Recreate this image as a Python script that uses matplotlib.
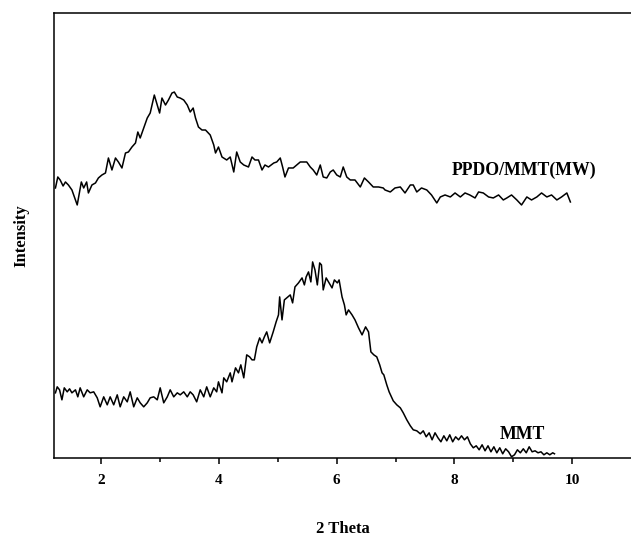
import numpy as np
import matplotlib
matplotlib.use("Agg")
import matplotlib.pyplot as plt

# XRD patterns (2 theta in degrees, intensity in arbitrary units)
ppdo_theta = [1.22, 1.26, 1.30, 1.35, 1.39, 1.44, 1.50, 1.59, 1.66, 1.70, 1.75, 1.78, 1.84, 1.90,
              1.95, 2.01, 2.07, 2.12, 2.18, 2.24, 2.29, 2.35, 2.41, 2.46, 2.52, 2.58, 2.62, 2.66,
              2.72, 2.78, 2.83, 2.90, 2.95, 2.99, 3.03, 3.09, 3.14, 3.20, 3.24, 3.29, 3.34, 3.40,
              3.46, 3.51, 3.56, 3.60, 3.65, 3.71, 3.77, 3.85, 3.91, 3.94, 3.99, 4.05, 4.13, 4.19,
              4.25, 4.30, 4.36, 4.42, 4.50, 4.56, 4.61, 4.67, 4.73, 4.78, 4.84, 4.93, 4.98, 5.04,
              5.08, 5.12, 5.18, 5.26, 5.32, 5.38, 5.43, 5.49, 5.55, 5.60, 5.66, 5.72, 5.77, 5.83,
              5.89, 5.94, 6.00, 6.06, 6.11, 6.17, 6.23, 6.31, 6.40, 6.47, 6.54, 6.62, 6.71, 6.79,
              6.82, 6.91, 6.99, 7.08, 7.16, 7.25, 7.30, 7.36, 7.44, 7.53, 7.61, 7.70, 7.76, 7.84,
              7.93, 8.01, 8.10, 8.18, 8.26, 8.35, 8.41, 8.49, 8.58, 8.66, 8.75, 8.83, 8.89, 8.97,
              9.06, 9.14, 9.23, 9.31, 9.40, 9.48, 9.57, 9.65, 9.74, 9.82, 9.91, 9.97]
ppdo_int = [270, 281, 278, 272, 276, 273, 268, 253, 276, 270, 276, 265, 273, 275,
            280, 283, 285, 300, 288, 300, 296, 290, 305, 306, 311, 315, 326, 320,
            330, 340, 345, 363, 353, 345, 360, 353, 358, 365, 366, 361, 360, 358,
            353, 346, 350, 340, 331, 328, 328, 323, 313, 305, 311, 301, 298, 301,
            286, 306, 296, 293, 291, 301, 298, 298, 288, 293, 291, 295, 296, 300,
            291, 281, 290, 290, 293, 296, 296, 296, 291, 288, 283, 293, 281, 280,
            286, 288, 283, 281, 291, 281, 278, 278, 271, 280, 276, 271, 271, 270,
            268, 266, 270, 271, 265, 273, 273, 266, 270, 268, 263, 255, 261, 263,
            261, 265, 261, 265, 263, 260, 266, 265, 261, 260, 263, 258, 260, 263,
            258, 253, 261, 258, 261, 265, 261, 263, 258, 261, 265, 256]

mmt_theta = [1.22, 1.25, 1.29, 1.33, 1.37, 1.42, 1.46, 1.50, 1.56, 1.60, 1.64, 1.70, 1.76, 1.81,
             1.87, 1.93, 1.98, 2.04, 2.10, 2.15, 2.21, 2.27, 2.32, 2.38, 2.44, 2.49, 2.55, 2.61,
             2.66, 2.72, 2.78, 2.83, 2.89, 2.95, 3.00, 3.06, 3.12, 3.17, 3.23, 3.29, 3.34, 3.40,
             3.46, 3.51, 3.56, 3.62, 3.68, 3.74, 3.79, 3.85, 3.91, 3.96, 3.99, 4.05, 4.08, 4.13,
             4.19, 4.22, 4.28, 4.33, 4.37, 4.42, 4.47, 4.52, 4.56, 4.60, 4.64, 4.69, 4.73, 4.77,
             4.81, 4.86, 4.92, 4.97, 5.01, 5.03, 5.07, 5.11, 5.15, 5.21, 5.25, 5.29, 5.35, 5.41,
             5.45, 5.48, 5.52, 5.56, 5.59, 5.63, 5.67, 5.71, 5.74, 5.77, 5.82, 5.87, 5.92, 5.96,
             6.01, 6.04, 6.09, 6.13, 6.16, 6.20, 6.26, 6.31, 6.37, 6.43, 6.49, 6.54, 6.58, 6.63,
             6.68, 6.73, 6.77, 6.80, 6.85, 6.89, 6.96, 7.02, 7.08, 7.13, 7.19, 7.25, 7.30, 7.36,
             7.42, 7.47, 7.52, 7.57, 7.62, 7.67, 7.72, 7.77, 7.82, 7.87, 7.92, 7.97, 8.02, 8.07,
             8.12, 8.17, 8.22, 8.27, 8.32, 8.37, 8.42, 8.47, 8.52, 8.57, 8.62, 8.67, 8.72, 8.77,
             8.82, 8.87, 8.92, 8.97, 9.02, 9.07, 9.12, 9.17, 9.22, 9.27, 9.32, 9.37, 9.42, 9.47,
             9.52, 9.57, 9.62, 9.67, 9.70]
mmt_int = [65, 71, 68, 58, 70, 66, 69, 65, 68, 61, 70, 61, 68, 65,
           66, 60, 51, 61, 53, 61, 53, 63, 51, 61, 56, 66, 51, 60,
           55, 51, 55, 60, 61, 58, 70, 55, 61, 68, 61, 65, 63, 66,
           61, 66, 63, 56, 68, 61, 71, 61, 70, 66, 76, 65, 80, 76,
           85, 76, 90, 85, 93, 80, 103, 101, 98, 98, 111, 120, 115, 121,
           126, 115, 126, 136, 143, 161, 138, 158, 160, 163, 155, 171, 175, 180,
           173, 181, 186, 176, 196, 188, 173, 195, 193, 168, 180, 175, 170, 178,
           175, 178, 161, 153, 143, 148, 143, 138, 130, 123, 131, 126, 106, 103,
           101, 93, 85, 83, 73, 66, 57, 53, 50, 45, 38, 32, 28, 27,
           24, 27, 21, 25, 18, 25, 20, 16, 22, 17, 23, 16, 21, 18,
           22, 18, 21, 14, 10, 12, 8, 13, 7, 12, 6, 11, 5, 10,
           4, 9, 6, 1, 3, 8, 5, 9, 5, 11, 6, 7, 5, 6,
           3, 5, 3, 5, 4]

x_ticks = [2, 4, 6, 8, 10]
labels = ["PPDO/MMT(MW)", "MMT"]
label_pos = [(9.18, 288), (9.15, 23)]

plt.rcParams['font.family'] = ['Liberation Serif', 'DejaVu Serif']
plt.rcParams['font.weight'] = 'bold'

fig = plt.figure(figsize=(6.31, 5.45), dpi=100)
ax = fig.add_axes([0.086, 0.16, 0.914, 0.816])

ax.plot(ppdo_theta, ppdo_int, color='black', lw=1.1)
ax.plot(mmt_theta, mmt_int, color='black', lw=1.1)

for txt, (tx, ty) in zip(labels, label_pos):
    ax.text(tx, ty, txt, ha='center', va='center', fontsize=12.8, fontweight='bold')

ax.set_xlim(1.2, 11.0)
ax.set_ylim(0, 445)
ax.set_xticks(x_ticks)
ax.set_xticks([3, 5, 7, 9], minor=True)
ax.set_yticks([])
ax.tick_params(axis='x', which='major', direction='out', length=4, width=1.1,
               labelsize=11, pad=8)
ax.tick_params(axis='x', which='minor', direction='out', length=3, width=1.1)
for lab in ax.get_xticklabels():
    lab.set_fontweight('bold')
for side in ['left', 'bottom', 'top']:
    ax.spines[side].set_linewidth(1.1)
ax.spines['right'].set_visible(False)

ax.set_xlabel("2 Theta", fontsize=12, fontweight='bold', labelpad=24)
ax.set_ylabel("Intensity", fontsize=12, fontweight='bold', labelpad=18)

fig.savefig("out.png", dpi=100)
